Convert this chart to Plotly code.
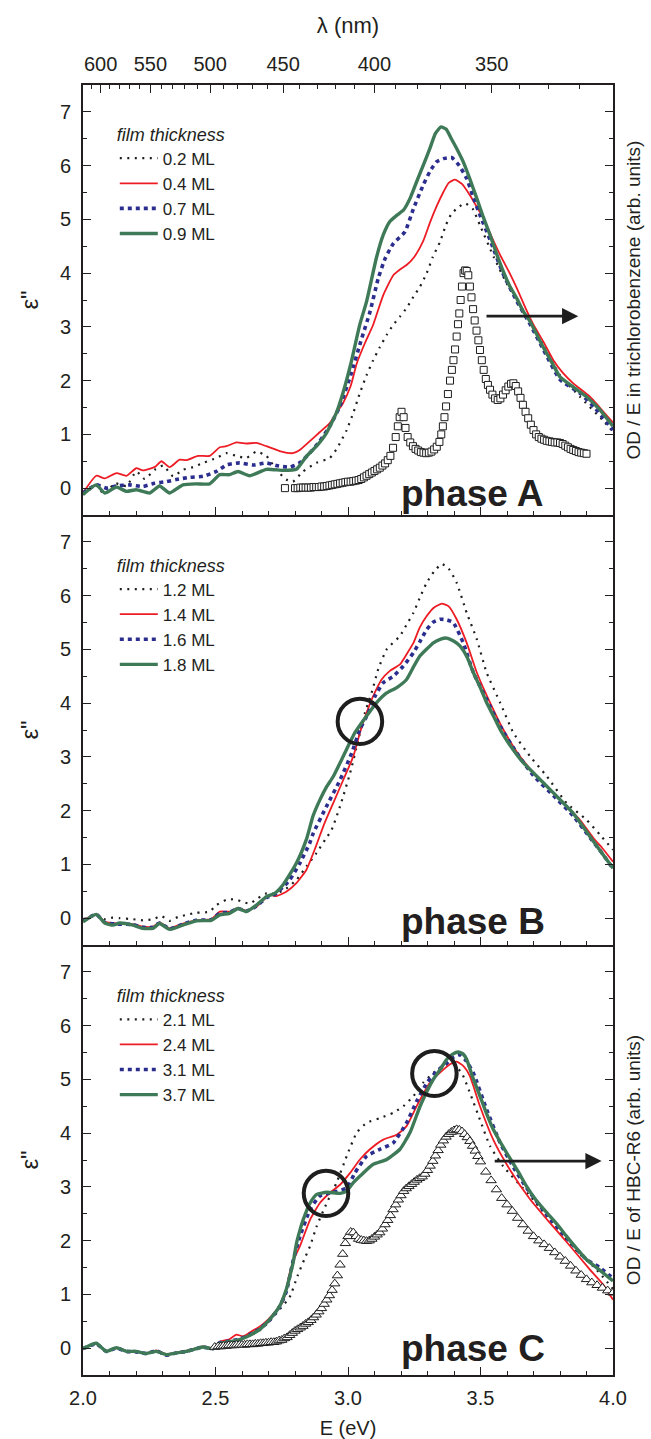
import plotly.graph_objects as go

FONT = "Liberation Sans, Arial, sans-serif"

# ---------------- phase A (top panel) ----------------
A_02_E = [2.0, 2.05, 2.082, 2.119, 2.164, 2.201, 2.233, 2.27, 2.302, 2.34, 2.377, 2.415, 2.459, 2.503, 2.541, 2.579, 2.616, 2.654, 2.692, 2.73, 2.767, 2.792, 2.83, 2.881, 2.931, 2.96, 2.995, 3.02, 3.045, 3.07, 3.095, 3.12, 3.146, 3.171, 3.196, 3.221, 3.247, 3.272, 3.297, 3.32, 3.347, 3.37, 3.39, 3.415, 3.442, 3.47, 3.498, 3.55, 3.6, 3.65, 3.7, 3.75, 3.8, 3.875, 3.96, 4.0]
A_02_eps = [-0.12, 0.04, -0.12, 0.09, 0.04, 0.31, 0.17, 0.34, 0.42, 0.22, 0.34, 0.39, 0.48, 0.56, 0.65, 0.6, 0.56, 0.68, 0.6, 0.34, 0.16, 0.12, 0.31, 0.47, 0.56, 0.75, 1.08, 1.4, 1.77, 2.1, 2.38, 2.62, 2.85, 3.04, 3.19, 3.35, 3.56, 3.75, 4.0, 4.3, 4.58, 4.9, 5.1, 5.22, 5.30, 5.2, 4.89, 4.3, 3.8, 3.4, 3.0, 2.55, 2.1, 1.7, 1.27, 1.05]

A_04_E = [2.0, 2.05, 2.082, 2.126, 2.164, 2.201, 2.226, 2.27, 2.296, 2.327, 2.365, 2.39, 2.434, 2.478, 2.516, 2.541, 2.579, 2.616, 2.654, 2.692, 2.742, 2.792, 2.818, 2.855, 2.893, 2.931, 2.956, 2.981, 3.01, 3.033, 3.064, 3.095, 3.133, 3.171, 3.2, 3.221, 3.25, 3.284, 3.31, 3.335, 3.36, 3.38, 3.404, 3.43, 3.46, 3.49, 3.511, 3.54, 3.574, 3.61, 3.637, 3.67, 3.70, 3.74, 3.775, 3.81, 3.85, 3.913, 3.95, 4.0]
A_04_eps = [-0.09, 0.23, 0.18, 0.28, 0.23, 0.37, 0.33, 0.39, 0.5, 0.39, 0.53, 0.52, 0.60, 0.60, 0.76, 0.78, 0.85, 0.83, 0.84, 0.78, 0.69, 0.65, 0.71, 0.87, 1.04, 1.21, 1.40, 1.58, 1.9, 2.32, 2.70, 3.04, 3.59, 3.96, 4.08, 4.15, 4.3, 4.6, 4.95, 5.25, 5.51, 5.68, 5.74, 5.66, 5.45, 5.2, 5.02, 4.7, 4.34, 4.0, 3.72, 3.35, 3.04, 2.7, 2.38, 2.15, 1.95, 1.70, 1.5, 1.22]

A_07_E = [2.0, 2.05, 2.088, 2.126, 2.176, 2.226, 2.27, 2.314, 2.352, 2.403, 2.453, 2.503, 2.541, 2.591, 2.642, 2.692, 2.73, 2.78, 2.818, 2.855, 2.893, 2.931, 2.969, 3.01, 3.052, 3.083, 3.114, 3.14, 3.171, 3.215, 3.247, 3.284, 3.31, 3.334, 3.36, 3.391, 3.42, 3.448, 3.47, 3.498, 3.536, 3.586, 3.637, 3.687, 3.737, 3.80, 3.875, 3.93, 4.0]
A_07_eps = [-0.09, 0.06, 0.0, 0.04, 0.06, 0.03, 0.09, 0.12, 0.16, 0.2, 0.22, 0.31, 0.43, 0.47, 0.43, 0.47, 0.42, 0.39, 0.47, 0.65, 0.87, 1.15, 1.52, 2.1, 2.79, 3.28, 3.90, 4.27, 4.55, 4.77, 5.20, 5.64, 5.9, 6.07, 6.13, 6.15, 6.0, 5.76, 5.45, 5.08, 4.62, 3.98, 3.48, 3.05, 2.58, 2.02, 1.77, 1.5, 1.08]

A_09_E = [2.0, 2.05, 2.082, 2.126, 2.164, 2.201, 2.252, 2.289, 2.327, 2.377, 2.428, 2.478, 2.516, 2.553, 2.585, 2.629, 2.692, 2.755, 2.805, 2.843, 2.881, 2.918, 2.956, 2.981, 3.01, 3.045, 3.07, 3.108, 3.133, 3.158, 3.185, 3.209, 3.235, 3.259, 3.285, 3.309, 3.33, 3.351, 3.37, 3.39, 3.41, 3.435, 3.46, 3.486, 3.51, 3.536, 3.56, 3.586, 3.61, 3.637, 3.66, 3.687, 3.71, 3.737, 3.77, 3.80, 3.85, 3.90, 3.95, 4.0]
A_09_eps = [-0.12, 0.06, -0.09, 0.02, -0.06, -0.03, -0.09, 0.04, -0.09, 0.06, 0.08, 0.08, 0.25, 0.25, 0.31, 0.23, 0.35, 0.33, 0.35, 0.59, 0.78, 1.02, 1.40, 1.77, 2.3, 3.05, 3.47, 4.3, 4.71, 4.96, 5.08, 5.17, 5.4, 5.70, 6.02, 6.32, 6.6, 6.72, 6.68, 6.5, 6.32, 6.07, 5.75, 5.39, 5.05, 4.71, 4.37, 4.03, 3.76, 3.53, 3.3, 3.10, 2.88, 2.62, 2.33, 2.07, 1.88, 1.70, 1.46, 1.15]

# OD/E in trichlorobenzene (squares, right axis, arb. units)
SQ_E = [2.762, 2.80, 2.81, 2.82, 2.83, 2.84, 2.85, 2.86, 2.87, 2.88, 2.89, 2.90, 2.91, 2.92, 2.93, 2.94, 2.95, 2.96, 2.97, 2.98, 2.99, 3.00, 3.01, 3.02, 3.03, 3.04, 3.05, 3.06, 3.07, 3.08, 3.09, 3.10, 3.11, 3.12, 3.13, 3.14, 3.15, 3.16, 3.17, 3.18,
        3.188, 3.195, 3.202, 3.21, 3.217, 3.225,
        3.235, 3.245, 3.255, 3.265, 3.275, 3.285, 3.295, 3.305, 3.315, 3.325, 3.335, 3.345,
        3.352, 3.358, 3.364, 3.37, 3.377, 3.385, 3.392, 3.398, 3.404, 3.41,
        3.415, 3.42, 3.425, 3.43, 3.436, 3.442, 3.448, 3.454, 3.46, 3.466,
        3.472, 3.478, 3.485, 3.492, 3.498, 3.505, 3.512, 3.52, 3.528, 3.536,
        3.545, 3.555, 3.565, 3.575, 3.585, 3.595, 3.605, 3.615, 3.624, 3.633,
        3.642, 3.651, 3.66, 3.67, 3.68, 3.69,
        3.70, 3.71, 3.72, 3.73, 3.74, 3.75, 3.76, 3.77, 3.78, 3.79, 3.80, 3.81, 3.82, 3.83, 3.84, 3.85, 3.86, 3.87, 3.88, 3.89, 3.90]
SQ_OD = [0.0, 0.0, 0.0, 0.01, 0.01, 0.01, 0.01, 0.01, 0.02, 0.02, 0.02, 0.03, 0.03, 0.04, 0.05, 0.06, 0.07, 0.08, 0.09, 0.1, 0.11, 0.12, 0.12, 0.13, 0.14, 0.15, 0.17, 0.2, 0.23, 0.26, 0.29, 0.32, 0.35, 0.38, 0.42, 0.46, 0.52, 0.6, 0.75, 0.95,
         1.15, 1.32, 1.42, 1.32, 1.12, 0.95,
         0.85, 0.78, 0.73, 0.7, 0.67, 0.66, 0.65, 0.66, 0.68, 0.72, 0.77, 0.86,
         1.0, 1.15, 1.32, 1.52, 1.75, 2.0, 2.2, 2.38, 2.58, 2.82,
         3.05, 3.25, 3.5, 3.75, 4.0, 4.05, 4.04, 3.96, 3.75, 3.55,
         3.33, 3.12, 2.93, 2.75, 2.57, 2.38, 2.2, 2.03, 1.92, 1.83,
         1.74, 1.67, 1.64, 1.67, 1.74, 1.82, 1.89, 1.94, 1.95, 1.9,
         1.8, 1.68, 1.55, 1.42, 1.3, 1.18,
         1.08, 1.0, 0.95, 0.92, 0.9, 0.88, 0.87, 0.86, 0.85, 0.85, 0.84, 0.82, 0.79, 0.76, 0.73, 0.71, 0.69, 0.67, 0.66, 0.65, 0.64]

# ---------------- phase B (middle panel) ----------------
B_12_E = [2.0, 2.05, 2.082, 2.113, 2.138, 2.189, 2.226, 2.264, 2.296, 2.327, 2.358, 2.39, 2.428, 2.478, 2.503, 2.541, 2.572, 2.604, 2.629, 2.66, 2.692, 2.73, 2.767, 2.805, 2.843, 2.881, 2.918, 2.938, 2.97, 3.008, 3.039, 3.064, 3.089, 3.114, 3.146, 3.196, 3.22, 3.247, 3.27, 3.297, 3.325, 3.354, 3.38, 3.41, 3.448, 3.486, 3.523, 3.574, 3.624, 3.687, 3.75, 3.825, 3.90, 3.951, 4.0]
B_12_eps = [-0.02, 0.06, -0.02, 0.01, 0.0, -0.02, -0.04, -0.02, 0.04, -0.05, 0.02, 0.06, 0.1, 0.12, 0.24, 0.34, 0.35, 0.30, 0.27, 0.37, 0.46, 0.46, 0.55, 0.71, 0.96, 1.21, 1.49, 1.64, 2.08, 2.70, 3.32, 3.82, 4.19, 4.63, 5.0, 5.25, 5.45, 5.68, 5.95, 6.24, 6.45, 6.59, 6.5, 6.24, 5.68, 5.19, 4.57, 4.01, 3.45, 3.01, 2.64, 2.14, 1.83, 1.55, 1.27]

B_14_E = [2.0, 2.05, 2.082, 2.126, 2.189, 2.226, 2.264, 2.289, 2.327, 2.377, 2.428, 2.484, 2.516, 2.553, 2.585, 2.616, 2.654, 2.704, 2.73, 2.767, 2.805, 2.843, 2.88, 2.91, 2.945, 2.982, 3.02, 3.045, 3.07, 3.095, 3.127, 3.158, 3.196, 3.22, 3.247, 3.27, 3.297, 3.325, 3.354, 3.38, 3.41, 3.448, 3.486, 3.536, 3.586, 3.649, 3.725, 3.80, 3.875, 3.926, 3.96, 4.0]
B_14_eps = [-0.04, 0.07, -0.07, -0.1, -0.11, -0.16, -0.16, -0.08, -0.19, -0.1, -0.04, -0.02, 0.12, 0.12, 0.19, 0.14, 0.21, 0.43, 0.41, 0.49, 0.65, 0.90, 1.35, 1.75, 2.15, 2.57, 3.01, 3.45, 3.82, 4.13, 4.44, 4.60, 4.72, 4.9, 5.12, 5.4, 5.62, 5.78, 5.85, 5.8, 5.56, 5.12, 4.57, 4.01, 3.51, 3.01, 2.57, 2.20, 1.83, 1.49, 1.3, 1.05]

B_16_E = [2.0, 2.05, 2.082, 2.126, 2.189, 2.226, 2.264, 2.289, 2.327, 2.377, 2.428, 2.484, 2.516, 2.553, 2.585, 2.616, 2.654, 2.692, 2.723, 2.755, 2.78, 2.818, 2.855, 2.869, 2.919, 2.97, 3.014, 3.045, 3.077, 3.102, 3.133, 3.171, 3.209, 3.247, 3.272, 3.297, 3.32, 3.347, 3.372, 3.397, 3.435, 3.473, 3.523, 3.574, 3.637, 3.70, 3.775, 3.85, 3.913, 3.96, 4.0]
B_16_eps = [-0.05, 0.07, -0.08, -0.11, -0.12, -0.17, -0.17, -0.09, -0.2, -0.11, -0.04, -0.03, 0.09, 0.11, 0.18, 0.13, 0.22, 0.38, 0.44, 0.58, 0.71, 1.02, 1.39, 1.58, 2.08, 2.57, 3.07, 3.51, 3.82, 4.13, 4.38, 4.50, 4.69, 4.94, 5.15, 5.37, 5.5, 5.56, 5.55, 5.50, 5.12, 4.57, 4.07, 3.57, 3.07, 2.65, 2.28, 1.9, 1.5, 1.2, 0.92]

B_18_E = [2.0, 2.05, 2.082, 2.113, 2.138, 2.189, 2.226, 2.264, 2.289, 2.327, 2.377, 2.428, 2.484, 2.516, 2.553, 2.585, 2.616, 2.654, 2.692, 2.723, 2.755, 2.805, 2.844, 2.868, 2.894, 2.92, 2.945, 2.982, 3.026, 3.07, 3.108, 3.146, 3.184, 3.221, 3.25, 3.272, 3.3, 3.322, 3.35, 3.372, 3.40, 3.423, 3.45, 3.473, 3.50, 3.523, 3.55, 3.574, 3.60, 3.624, 3.66, 3.70, 3.775, 3.85, 3.913, 3.96, 4.0]
B_18_eps = [-0.07, 0.07, -0.09, -0.13, -0.09, -0.13, -0.19, -0.19, -0.1, -0.21, -0.13, -0.05, -0.04, 0.06, 0.09, 0.18, 0.12, 0.24, 0.40, 0.46, 0.62, 1.02, 1.48, 1.9, 2.20, 2.45, 2.64, 3.01, 3.45, 3.76, 4.01, 4.19, 4.29, 4.44, 4.7, 4.88, 5.02, 5.12, 5.19, 5.21, 5.15, 5.06, 4.85, 4.57, 4.28, 4.01, 3.75, 3.51, 3.3, 3.13, 2.9, 2.70, 2.33, 1.95, 1.52, 1.2, 0.93]

# ---------------- phase C (bottom panel) ----------------
C_21_E = [2.0, 2.05, 2.088, 2.126, 2.164, 2.2, 2.239, 2.277, 2.314, 2.352, 2.39, 2.428, 2.453, 2.49, 2.516, 2.553, 2.591, 2.63, 2.667, 2.704, 2.742, 2.78, 2.81, 2.835, 2.857, 2.882, 2.92, 2.957, 2.995, 3.033, 3.07, 3.121, 3.171, 3.209, 3.247, 3.284, 3.322, 3.35, 3.372, 3.397, 3.429, 3.46, 3.498, 3.536, 3.586, 3.687, 3.75, 3.812, 3.875, 3.938, 4.0]
C_21_eps = [-0.01, 0.08, -0.06, 0.0, -0.06, -0.06, -0.1, -0.06, -0.14, -0.09, -0.06, -0.01, 0.02, -0.01, 0.08, 0.12, 0.16, 0.23, 0.33, 0.5, 0.72, 0.95, 1.35, 1.65, 1.90, 2.27, 2.70, 3.08, 3.57, 4.01, 4.19, 4.28, 4.38, 4.50, 4.69, 4.94, 5.12, 5.22, 5.28, 5.28, 5.12, 4.75, 4.25, 3.76, 3.38, 2.83, 2.45, 2.08, 1.75, 1.46, 1.1]

C_24_E = [2.0, 2.05, 2.088, 2.126, 2.164, 2.2, 2.239, 2.277, 2.314, 2.352, 2.39, 2.428, 2.453, 2.49, 2.516, 2.55, 2.579, 2.604, 2.629, 2.66, 2.68, 2.717, 2.755, 2.78, 2.80, 2.819, 2.857, 2.894, 2.932, 2.97, 3.008, 3.045, 3.083, 3.133, 3.184, 3.221, 3.259, 3.309, 3.36, 3.385, 3.41, 3.435, 3.46, 3.498, 3.548, 3.611, 3.687, 3.762, 3.838, 3.913, 3.96, 4.0]
C_24_eps = [-0.01, 0.09, -0.06, 0.01, -0.05, -0.06, -0.1, -0.04, -0.11, -0.08, -0.05, 0.0, 0.03, 0.0, 0.12, 0.16, 0.25, 0.22, 0.29, 0.38, 0.45, 0.63, 0.87, 1.40, 1.7, 1.90, 2.39, 2.70, 2.89, 3.04, 3.26, 3.51, 3.70, 3.88, 3.97, 4.13, 4.50, 4.94, 5.18, 5.28, 5.33, 5.25, 5.06, 4.50, 3.88, 3.32, 2.77, 2.33, 1.90, 1.46, 1.2, 0.9]

C_31_E = [2.0, 2.05, 2.088, 2.126, 2.164, 2.2, 2.239, 2.277, 2.314, 2.352, 2.39, 2.428, 2.453, 2.49, 2.516, 2.553, 2.591, 2.63, 2.667, 2.704, 2.742, 2.767, 2.794, 2.819, 2.857, 2.894, 2.945, 2.995, 3.026, 3.07, 3.121, 3.171, 3.221, 3.26, 3.3, 3.335, 3.372, 3.40, 3.423, 3.445, 3.473, 3.523, 3.574, 3.62, 3.674, 3.75, 3.825, 3.90, 3.95, 4.0]
C_31_eps = [-0.01, 0.08, -0.06, 0.0, -0.06, -0.07, -0.1, -0.05, -0.13, -0.09, -0.06, -0.01, 0.02, -0.01, 0.1, 0.13, 0.17, 0.25, 0.36, 0.52, 0.77, 1.05, 1.65, 2.08, 2.58, 2.83, 2.90, 2.98, 3.26, 3.57, 3.70, 3.82, 4.19, 4.6, 4.95, 5.15, 5.30, 5.42, 5.46, 5.35, 5.12, 4.44, 3.82, 3.4, 2.98, 2.48, 2.05, 1.65, 1.5, 1.3]

C_37_E = [2.0, 2.05, 2.088, 2.126, 2.164, 2.2, 2.239, 2.277, 2.314, 2.352, 2.39, 2.428, 2.453, 2.49, 2.516, 2.553, 2.591, 2.63, 2.667, 2.704, 2.742, 2.767, 2.781, 2.794, 2.806, 2.819, 2.831, 2.857, 2.882, 2.92, 2.97, 2.995, 3.02, 3.058, 3.095, 3.146, 3.196, 3.234, 3.272, 3.3, 3.322, 3.35, 3.372, 3.395, 3.416, 3.435, 3.448, 3.47, 3.498, 3.52, 3.548, 3.575, 3.599, 3.64, 3.674, 3.71, 3.75, 3.79, 3.825, 3.86, 3.90, 3.95, 4.0]
C_37_eps = [-0.01, 0.09, -0.06, 0.01, -0.06, -0.06, -0.1, -0.06, -0.12, -0.09, -0.06, -0.01, 0.02, -0.01, 0.09, 0.12, 0.16, 0.24, 0.35, 0.53, 0.78, 1.09, 1.35, 1.62, 1.96, 2.2, 2.39, 2.70, 2.86, 2.90, 2.88, 2.92, 3.08, 3.26, 3.42, 3.51, 3.70, 4.01, 4.50, 4.8, 5.0, 5.2, 5.37, 5.47, 5.51, 5.47, 5.37, 5.05, 4.69, 4.4, 4.07, 3.83, 3.63, 3.3, 3.01, 2.75, 2.52, 2.3, 2.08, 1.87, 1.65, 1.45, 1.25]

# OD/E of HBC-R6 (triangles, right axis, arb. units)
TR_E = [2.497,
        2.51, 2.52, 2.53, 2.54, 2.55, 2.56, 2.57, 2.58, 2.59, 2.60,
        2.61, 2.62, 2.63, 2.64, 2.65, 2.66, 2.67, 2.68, 2.69, 2.70,
        2.71, 2.72, 2.73, 2.74, 2.75, 2.76, 2.77, 2.78, 2.79, 2.80,
        2.81, 2.82, 2.83, 2.84, 2.85, 2.86, 2.87, 2.88, 2.89, 2.90,
        2.91, 2.92, 2.93, 2.94, 2.95, 2.96, 2.97, 2.98, 2.99, 3.00,
        3.01, 3.02, 3.03, 3.04, 3.05, 3.06, 3.07, 3.08, 3.09, 3.10,
        3.11, 3.12, 3.13, 3.14, 3.15, 3.16, 3.17, 3.18, 3.19, 3.20,
        3.21, 3.22, 3.23, 3.24, 3.25, 3.26, 3.27, 3.28, 3.29, 3.30,
        3.31, 3.32, 3.33, 3.34, 3.35, 3.36, 3.37, 3.38, 3.39, 3.40,
        3.41, 3.42, 3.43, 3.44, 3.45, 3.46, 3.47, 3.48, 3.49, 3.50,
        3.52, 3.54, 3.56, 3.58, 3.60, 3.62, 3.64, 3.66, 3.68, 3.70,
        3.72, 3.74, 3.76, 3.78, 3.80, 3.82, 3.84, 3.86, 3.88, 3.90,
        3.92, 3.94, 3.96, 3.98, 4.00]
TR_OD = [0.02,
         0.03, 0.03, 0.04, 0.04, 0.05, 0.05, 0.05, 0.06, 0.06, 0.06,
         0.06, 0.07, 0.07, 0.07, 0.08, 0.08, 0.09, 0.09, 0.10, 0.10,
         0.11, 0.11, 0.12, 0.14, 0.15, 0.18, 0.2, 0.24, 0.28, 0.32,
         0.35, 0.38, 0.41, 0.45, 0.48, 0.52, 0.57, 0.62, 0.68, 0.74,
         0.82, 0.9, 0.98, 1.08, 1.2, 1.35, 1.55, 1.75, 1.95, 2.08,
         2.16, 2.15, 2.08, 2.03, 2.01, 2.0, 1.99, 2.0, 2.03, 2.07,
         2.11, 2.15, 2.22, 2.3, 2.38, 2.47, 2.58, 2.67, 2.76, 2.84,
         2.92, 2.97, 3.01, 3.05, 3.09, 3.13, 3.16, 3.19, 3.24, 3.31,
         3.39, 3.48, 3.58, 3.68, 3.78, 3.86, 3.93, 3.98, 4.02, 4.05,
         4.07, 4.06, 4.03, 3.98, 3.92, 3.85, 3.76, 3.67, 3.57, 3.47,
         3.28, 3.12, 2.95, 2.79, 2.67, 2.55, 2.42, 2.3, 2.18, 2.08,
         2.0, 1.93, 1.86, 1.78, 1.7, 1.62, 1.53, 1.44, 1.36, 1.28,
         1.22, 1.17, 1.12, 1.07, 1.03]

# labels
THICK_A = ["0.2 ML", "0.4 ML", "0.7 ML", "0.9 ML"]
THICK_B = ["1.2 ML", "1.4 ML", "1.6 ML", "1.8 ML"]
THICK_C = ["2.1 ML", "2.4 ML", "3.1 ML", "3.7 ML"]
WL_MAJOR_NM = [600, 550, 500, 450, 400, 350]
WL_MINOR_NM = [610, 590, 580, 570, 560, 540, 530, 520, 510, 490, 480, 470, 460, 440, 430, 420, 410,
               390, 380, 370, 360, 340, 330, 320, 310]
HC_EV_NM = 1239.84

# decorations (centres in data units)
CIRCLES_B = [(3.045, 3.66)]
CIRCLES_C = [(2.917, 2.88), (3.326, 5.11)]
ARROW_A = (3.517, 3.869, 3.2)
ARROW_C = (3.548, 3.957, 3.48)

INK = "#231F20"
STYLES = [
    dict(color="#1e1e1e", width=2.2, dash="2px,5.5px"),
    dict(color="#ED1C24", width=1.8),
    dict(color="#2B2E8F", width=3.6, dash="4px,4px"),
    dict(color="#3F7A58", width=3.4),
]

fig = go.Figure()

def add_panel(series, names, xa, ya, legend):
    for (E, v), name, st in zip(series, names, STYLES):
        fig.add_trace(go.Scatter(x=E, y=v, mode="lines", name=name,
                                 line=dict(shape="spline", smoothing=0.5, **st),
                                 xaxis=xa, yaxis=ya, legend=legend))

fig.add_trace(go.Scatter(x=SQ_E, y=SQ_OD, mode="markers", showlegend=False, xaxis="x4", yaxis="y4",
                         marker=dict(symbol="square", size=7, color="white", line=dict(color="#1e1e1e", width=1))))
fig.add_trace(go.Scatter(x=TR_E, y=TR_OD, mode="markers", showlegend=False, xaxis="x3", yaxis="y5",
                         marker=dict(symbol="triangle-up", size=9, color="white", line=dict(color="#1e1e1e", width=1))))

add_panel([(A_02_E, A_02_eps), (A_04_E, A_04_eps), (A_07_E, A_07_eps), (A_09_E, A_09_eps)], THICK_A, "x", "y", "legend")
add_panel([(B_12_E, B_12_eps), (B_14_E, B_14_eps), (B_16_E, B_16_eps), (B_18_E, B_18_eps)], THICK_B, "x2", "y2", "legend2")
add_panel([(C_21_E, C_21_eps), (C_24_E, C_24_eps), (C_31_E, C_31_eps), (C_37_E, C_37_eps)], THICK_C, "x3", "y3", "legend3")

YR = [-0.5, 7.5]
tickfont = dict(family=FONT, size=20, color=INK)

def yax(domain, anchor):
    return dict(domain=domain, anchor=anchor, range=YR, showgrid=False, zeroline=False, automargin=False,
                showline=True, linecolor=INK, linewidth=1.6, mirror="ticks",
                ticks="inside", ticklen=8, tickwidth=1.4, tickcolor=INK, dtick=1, tick0=0,
                minor=dict(dtick=0.5, tick0=0, ticks="inside", ticklen=4, tickwidth=1.4, tickcolor=INK),
                tickfont=tickfont, ticklabelstandoff=6,
                title=dict(text='ε"', font=dict(family=FONT, size=24, color=INK), standoff=15))

def xax(anchor, labels, **kw):
    d = dict(anchor=anchor, domain=[0, 1], range=[2, 4], showgrid=False, zeroline=False, automargin=False,
             showline=True, linecolor=INK, linewidth=1.6, mirror=False,
             ticks="inside", ticklen=8, tickwidth=1.4, tickcolor=INK, dtick=0.5, tick0=2,
             minor=dict(dtick=0.1, tick0=2, ticks="inside", ticklen=4, tickwidth=1.4, tickcolor=INK),
             showticklabels=labels, tickformat=".1f", tickfont=tickfont)
    d.update(kw)
    return d

def yright(over, anchor, text):
    return dict(overlaying=over, anchor=anchor, side="right", range=YR, showgrid=False, zeroline=False,
                automargin=False, showline=False, ticks="", showticklabels=False,
                title=dict(text=text, font=dict(family=FONT, size=19, color=INK), standoff=13))

third = 1 / 3
leg_common = dict(xanchor="left", yanchor="top", x=0.06, bgcolor="rgba(0,0,0,0)",
                  font=dict(family=FONT, size=17, color=INK), itemwidth=38, tracegroupgap=0,
                  title=dict(text="<i>film thickness</i>", font=dict(family=FONT, size=18, color=INK)))

shapes = []
RX, RY = 0.084, 0.42
for (cx, cy) in CIRCLES_B:
    shapes.append(dict(type="circle", xref="x2", yref="y2", x0=cx - RX, x1=cx + RX, y0=cy - RY, y1=cy + RY,
                       line=dict(color="#1e1e1e", width=4)))
for (cx, cy) in CIRCLES_C:
    shapes.append(dict(type="circle", xref="x3", yref="y3", x0=cx - RX, x1=cx + RX, y0=cy - RY, y1=cy + RY,
                       line=dict(color="#1e1e1e", width=4)))

phase_font = dict(family=FONT, size=37, color=INK)
annotations = [
    dict(text="<b>phase A</b>", x=3.47, y=-0.1, xref="x", yref="y", showarrow=False, font=phase_font),
    dict(text="<b>phase B</b>", x=3.47, y=-0.07, xref="x2", yref="y2", showarrow=False, font=phase_font),
    dict(text="<b>phase C</b>", x=3.47, y=0.0, xref="x3", yref="y3", showarrow=False, font=phase_font),
]
for (x0, x1, yv), xr, yr in [(ARROW_A, "x", "y"), (ARROW_C, "x3", "y3")]:
    annotations.append(dict(x=x1, y=yv, ax=x0, ay=yv, xref=xr, yref=yr, axref=xr, ayref=yr, text="",
                            showarrow=True, arrowhead=2, arrowsize=1.25, arrowwidth=2.6, arrowcolor="#1e1e1e"))

fig.update_layout(
    width=651, height=1439,
    margin=dict(l=83, r=38, t=85, b=64),
    paper_bgcolor="white", plot_bgcolor="white",
    font=dict(family=FONT, color=INK),
    xaxis=xax("y", False),
    xaxis2=xax("y2", False, matches="x"),
    xaxis3=xax("y3", True, matches="x", ticklabelstandoff=4,
               title=dict(text="E (eV)", font=dict(family=FONT, size=20, color=INK), standoff=14)),
    xaxis4=dict(overlaying="x", anchor="y", side="top", range=[2, 4], showgrid=False, zeroline=False,
                automargin=False, showline=True, linecolor=INK, linewidth=1.6,
                tickmode="array", tickvals=[HC_EV_NM / w for w in WL_MAJOR_NM],
                ticktext=[str(w) for w in WL_MAJOR_NM],
                ticks="inside", ticklen=8, tickwidth=1.4, tickcolor=INK,
                minor=dict(tickmode="array", tickvals=[HC_EV_NM / w for w in WL_MINOR_NM], ticks="inside",
                           ticklen=4, tickwidth=1.4, tickcolor=INK),
                tickfont=tickfont, ticklabelstandoff=4,
                title=dict(text="λ (nm)", font=dict(family=FONT, size=22, color=INK), standoff=14)),
    yaxis=yax([2 * third, 1], "x"),
    yaxis2=yax([third, 2 * third], "x2"),
    yaxis3=yax([0, third], "x3"),
    yaxis4=yright("y", "x4", "OD / E in trichlorobenzene (arb. units)"),
    yaxis5=yright("y3", "x3", "OD / E of HBC-R6 (arb. units)"),
    legend=dict(y=0.975, **leg_common),
    legend2=dict(y=0.641, **leg_common),
    legend3=dict(y=0.3075, **leg_common),
    shapes=shapes,
    annotations=annotations,
)

fig.write_html("out.html")
